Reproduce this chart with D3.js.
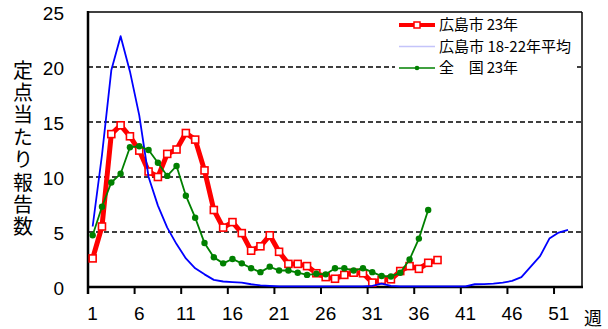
<!DOCTYPE html>
<html><head><meta charset="utf-8">
<script src="https://cdn.jsdelivr.net/npm/d3@7"></script>
<style>
html,body{margin:0;padding:0;background:#fff;}
svg{display:block;}
</style></head>
<body>
<svg id="c" width="608" height="329"></svg>
<script>
const weeks = [1,2,3,4,5,6,7,8,9,10,11,12,13,14,15,16,17,18,19,20,21,22,23,24,25,26,27,28,29,30,31,32,33,34,35,36,37,38,39,40,41,42,43,44,45,46,47,48,49,50,51,52,53];
const xTickLabels = [1,6,11,16,21,26,31,36,41,46,51];
const yTicks = [0,5,10,15,20,25];
const hiroshima23 = [2.6,5.5,13.9,14.7,13.7,12.4,10.5,10.0,12.1,12.5,14.0,13.4,10.6,7.0,5.4,5.9,4.9,3.3,3.7,4.7,3.2,2.1,2.1,1.9,1.25,0.9,0.75,1.1,1.3,1.25,0.4,0.65,0.7,1.45,1.9,1.65,2.2,2.45];
const hiroshimaAvg = [5.5,12.0,19.7,22.8,19.6,15.6,10.0,7.4,5.4,3.9,2.6,1.7,1.15,0.65,0.5,0.45,0.4,0.25,0.15,0.1,0.05,0.05,0.05,0.05,0.05,0.05,0.05,0.05,0.05,0.05,0.1,0.3,0.1,0.05,0.05,0.05,0.05,0.05,0.05,0.05,0.05,0.25,0.27,0.3,0.4,0.55,0.9,1.85,2.8,4.4,4.95,5.2];
const national23 = [4.7,7.3,9.5,10.3,12.7,12.8,12.45,11.3,10.1,11.0,8.3,6.3,4.0,2.7,2.15,2.55,2.15,1.7,1.35,1.85,1.5,1.5,1.3,1.1,1.2,1.15,1.7,1.7,1.5,1.7,1.35,1.0,0.95,1.3,2.5,4.4,7.0];
const legendLabels = ["広島市 23年","広島市 18-22年平均","全\u3000国 23年"];
const yTitle = "定点当たり報告数";

const svg = d3.select("#c");
const L=88, R=582, T=12, B=287;
const x = d3.scaleBand().domain(weeks).range([L,R]).padding(0);
const y = d3.scaleLinear().domain([0,25]).range([B,T]);
const cx = w => x(w) + x.bandwidth()/2;
const font = "'Liberation Sans', Arial, sans-serif";
const cjk = "'Noto Sans CJK JP', sans-serif";

// gridlines
svg.append("g").selectAll("line").data([5,10,15,20]).join("line")
  .attr("x1",L).attr("x2",R).attr("y1",d=>y(d)).attr("y2",d=>y(d))
  .attr("stroke","#000").attr("stroke-width",1.4).attr("stroke-dasharray","5,3");

// frame top/right
svg.append("line").attr("x1",L).attr("x2",R).attr("y1",T).attr("y2",T).attr("stroke","#000").attr("stroke-width",1.5);
svg.append("line").attr("x1",R).attr("x2",R).attr("y1",T).attr("y2",B).attr("stroke","#000").attr("stroke-width",1.5);

// y labels
svg.append("g").selectAll("text").data(yTicks).join("text")
  .attr("x",64).attr("y",d=>y(d)+8).attr("text-anchor","end")
  .attr("font-family",font).attr("font-size",19).text(d=>d);

// x ticks at boundaries
const bounds = [0,5,10,15,20,25,30,35,40,45,50];
svg.append("g").selectAll("line").data(bounds).join("line")
  .attr("x1",d=>L+d*x.bandwidth()).attr("x2",d=>L+d*x.bandwidth())
  .attr("y1",B).attr("y2",B+7).attr("stroke","#000").attr("stroke-width",2);
svg.append("g").selectAll("text").data(xTickLabels).join("text")
  .attr("x",d=>cx(d)).attr("y",320).attr("text-anchor","middle")
  .attr("font-family",font).attr("font-size",19).text(d=>d);

// axes
svg.append("line").attr("x1",L).attr("x2",L).attr("y1",T-1).attr("y2",B+7).attr("stroke","#000").attr("stroke-width",2.5);
svg.append("line").attr("x1",L-1).attr("x2",R+1).attr("y1",B).attr("y2",B).attr("stroke","#000").attr("stroke-width",2.5);

// y title vertical
svg.append("text").attr("x",23).attr("y",60)
  .style("writing-mode","vertical-rl").style("letter-spacing","2.4px")
  .attr("font-family",cjk).attr("font-size",20).text(yTitle);
svg.append("text").attr("x",593).attr("y",325).attr("text-anchor","middle")
  .attr("font-family",cjk).attr("font-size",18).text("週");

const line = d3.line().x((d,i)=>cx(weeks[i])).y(d=>y(d));

// series
svg.append("path").datum(hiroshima23).attr("d",line).attr("fill","none")
  .attr("stroke","#ff0000").attr("stroke-width",5).attr("stroke-linejoin","round");
svg.append("g").selectAll("rect").data(hiroshima23).join("rect")
  .attr("x",(d,i)=>cx(weeks[i])-3.5).attr("y",d=>y(d)-3.5).attr("width",7).attr("height",7)
  .attr("fill","#fff").attr("stroke","#ff0000").attr("stroke-width",1.6);

svg.append("path").datum(hiroshimaAvg).attr("d",line).attr("fill","none")
  .attr("stroke","#0000ff").attr("stroke-width",1.8).attr("stroke-linejoin","round");

svg.append("path").datum(national23).attr("d",line).attr("fill","none")
  .attr("stroke","#008000").attr("stroke-width",1.8);
svg.append("g").selectAll("circle").data(national23).join("circle")
  .attr("cx",(d,i)=>cx(weeks[i])).attr("cy",d=>y(d)).attr("r",3.2).attr("fill","#008000");

// legend
const lg = svg.append("g");
lg.append("rect").attr("x",395).attr("y",14).attr("width",182).attr("height",64).attr("fill","#fff");
const ly = [25,46.5,68];
const lw = [79,132,79];
lg.append("line").attr("x1",399).attr("x2",435).attr("y1",ly[0]).attr("y2",ly[0]).attr("stroke","#ff0000").attr("stroke-width",4);
lg.append("rect").attr("x",414).attr("y",ly[0]-3).attr("width",6).attr("height",6).attr("fill","#fff").attr("stroke","#ff0000").attr("stroke-width",1.5);
lg.append("line").attr("x1",399).attr("x2",435).attr("y1",ly[1]).attr("y2",ly[1]).attr("stroke","#c4c4fa").attr("stroke-width",1.5);
lg.append("line").attr("x1",399).attr("x2",435).attr("y1",ly[2]).attr("y2",ly[2]).attr("stroke","#008000").attr("stroke-width",1.5);
lg.append("circle").attr("cx",417).attr("cy",ly[2]).attr("r",2.3).attr("fill","#008000");
lg.selectAll("text").data(legendLabels).join("text")
  .attr("x",439).attr("y",(d,i)=>ly[i]+5).attr("font-family",cjk).attr("font-size",15)
  .attr("textLength",(d,i)=>lw[i]).attr("lengthAdjust","spacing").text(d=>d);
</script>
</body></html>
